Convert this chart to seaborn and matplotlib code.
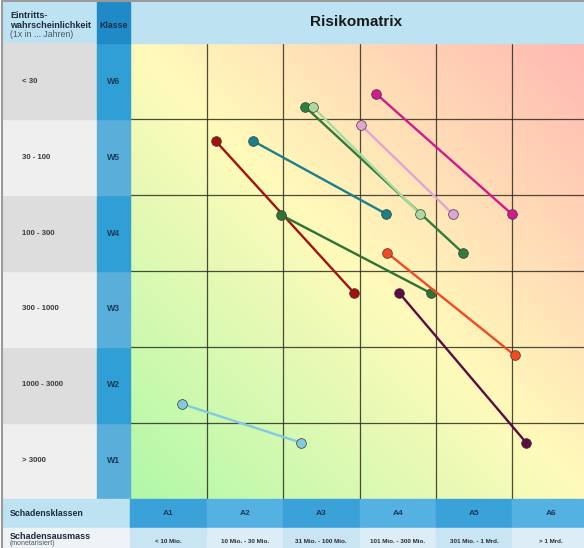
import numpy as np
import pandas as pd
import matplotlib
matplotlib.use("Agg")
import matplotlib.pyplot as plt
import seaborn as sns
from matplotlib.patches import Rectangle

sns.set_theme(style="white")
plt.rcParams['font.family'] = ['Liberation Sans', 'DejaVu Sans']

# ---------------- data ----------------
title = "Risikomatrix"
damage_classes = ["A1", "A2", "A3", "A4", "A5", "A6"]
damage_amounts = ["< 10 Mio.", "10 Mio. - 30 Mio.", "31 Mio. - 100 Mio.",
                  "101 Mio. - 300 Mio.", "301 Mio. - 1 Mrd.", "> 1 Mrd."]
prob_classes = ["W1", "W2", "W3", "W4", "W5", "W6"]
prob_ranges = ["> 3000", "1000 - 3000", "300 - 1000", "100 - 300", "30 - 100", "< 30"]

series_names = ["dunkelgruen_oben", "hellgruen", "magenta", "rosa", "dunkelrot",
                "petrol", "dunkelgruen_mitte", "orangerot", "aubergine", "hellblau"]
start_x = [2.29, 2.39, 3.22, 3.02, 1.12, 1.61, 1.97, 3.36, 3.52, 0.68]
start_y = [5.16, 5.16, 5.33, 4.92, 4.71, 4.71, 3.74, 3.24, 2.71, 1.25]
end_x = [4.35, 3.79, 4.99, 4.22, 2.93, 3.35, 3.93, 5.03, 5.18, 2.24]
end_y = [3.24, 3.75, 3.75, 3.75, 2.71, 3.75, 2.71, 1.89, 0.74, 0.74]
series_colors = ["#2f7d3a", "#a9dba0", "#d01a8e", "#e3a3d3", "#a3120f",
                 "#1b7f8c", "#2b7434", "#f24a22", "#5b0b45", "#84c9e0"]

df = pd.DataFrame({
    "serie": np.repeat(series_names, 2),
    "x": np.ravel(np.column_stack([start_x, end_x])),
    "y": np.ravel(np.column_stack([start_y, end_y])),
})

# ---------------- figure ----------------
fig = plt.figure(figsize=(5.84, 5.48), dpi=100)
ax = fig.add_axes([0, 0, 1, 1])
X0, X1 = -1.70, 5.935
Y0, Y1 = -0.645, 6.566
ax.set_xlim(X0, X1)
ax.set_ylim(Y0, Y1)
ax.axis("off")
fig.patch.set_facecolor("white")

LX0, KX0 = -1.66, -0.431
TOP = 6.535

# gradient background of matrix
n = 400
gx, gy = np.meshgrid(np.linspace(0, 6, n), np.linspace(0, 6, n))
t = (gx + gy) / 12.0
green = np.array([0.69, 0.975, 0.66])
yellow = np.array([1.0, 0.982, 0.73])
pink = np.array([1.0, 0.72, 0.70])
lo = t <= 0.5
a = (t / 0.5)[..., None]
b = ((t - 0.5) / 0.5)[..., None]
img = np.where(lo[..., None], green + (yellow - green) * a, yellow + (pink - yellow) * b)
ax.imshow(img, extent=(0, 6, 0, 6), origin="lower", aspect="auto", zorder=0)

# grid lines
for i in range(1, 6):
    ax.plot([i, i], [0, 6], color="#2e2e22", lw=0.9, alpha=0.85, zorder=1)
    ax.plot([0, 6], [i, i], color="#2e2e22", lw=0.9, alpha=0.85, zorder=1)

# header band
ax.add_patch(Rectangle((LX0, 6.0), X1 - LX0, TOP - 6.0, color="#bde3f3", zorder=1))
ax.add_patch(Rectangle((KX0, 6.0), -KX0, TOP - 6.0, color="#1f8ac6", zorder=2))
ax.text(2.95, 6.27, title, ha="center", va="center", fontsize=11,
        fontweight="bold", color="#1a1a1a", zorder=5)
ax.text(-1.57, 6.36, "Eintritts-", ha="left", va="center", fontsize=6.5,
        fontweight="bold", color="#1e2a3a", zorder=5)
ax.text(-1.57, 6.235, "wahrscheinlichkeit", ha="left", va="center", fontsize=6.5,
        fontweight="bold", color="#1e2a3a", zorder=5)
ax.text(-1.57, 6.11, "(1x in ... Jahren)", ha="left", va="center", fontsize=6.3,
        color="#4a5866", zorder=5)
ax.text(KX0 / 2, 6.235, "Klasse", ha="center", va="center", fontsize=6.3,
        fontweight="bold", color="#13304d", zorder=5)

# left label columns
for r in range(6):
    gray = "#efefef" if r % 2 == 0 else "#dddddd"
    blue = "#5aafda" if r % 2 == 0 else "#2f9fd5"
    ax.add_patch(Rectangle((LX0, r), KX0 - LX0, 1, color=gray, zorder=1))
    ax.add_patch(Rectangle((KX0, r), -KX0, 1, color=blue, zorder=1))
    ax.text(-1.41, r + 0.5, prob_ranges[r], ha="left", va="center", fontsize=5.6,
            fontweight="bold", color="#3a3a3a", zorder=5)
    ax.text(KX0 / 2, r + 0.5, prob_classes[r], ha="center", va="center", fontsize=6.3,
            fontweight="bold", color="#1b3a5a", zorder=5)

# bottom bands
ax.add_patch(Rectangle((LX0, -0.38), -LX0, 0.38, color="#bde3f3", zorder=1))
ax.add_patch(Rectangle((LX0, Y0), -LX0, -0.38 - Y0, color="#eef3f6", zorder=1))
ax.text(-1.57, -0.19, "Schadensklassen", ha="left", va="center", fontsize=6.3,
        fontweight="bold", color="#1e2a3a", zorder=5)
ax.text(-1.57, -0.49, "Schadensausmass", ha="left", va="center", fontsize=6.5,
        fontweight="bold", color="#1e2a3a", zorder=5)
ax.text(-1.57, Y0 + 0.012, "(monetarisiert)", ha="left", va="bottom", fontsize=5.0,
        color="#4a5866", zorder=5)
for c in range(6):
    top_col = "#3aa1d9" if c % 2 == 0 else "#55b1e1"
    bot_col = "#c9e4f3" if c % 2 == 0 else "#dcedf7"
    ax.add_patch(Rectangle((c, -0.38), 1, 0.38, color=top_col, zorder=1))
    ax.add_patch(Rectangle((c, Y0), 1, -0.38 - Y0, color=bot_col, zorder=1))
    ax.text(c + 0.5, -0.19, damage_classes[c], ha="center", va="center", fontsize=6.0,
            fontweight="bold", color="#1b3a5a", zorder=5)
    ax.text(c + 0.5, -0.553, damage_amounts[c], ha="center", va="center", fontsize=4.5,
            fontweight="bold", color="#2a2a2a", zorder=5)

# outer gray border (left and top)
ax.plot([LX0 - 0.02, LX0 - 0.02], [Y0, TOP + 0.02], color="#9a9a9a", lw=1.5, zorder=6)
ax.plot([LX0 - 0.02, X1], [TOP + 0.02, TOP + 0.02], color="#9a9a9a", lw=1.5, zorder=6)

# risk shift lines
palette = dict(zip(series_names, series_colors))
sns.lineplot(data=df, x="x", y="y", hue="serie", hue_order=series_names,
             palette=palette, sort=False, estimator=None, marker="o",
             markersize=7, markeredgecolor="#3a3a3a", markeredgewidth=0.5,
             linewidth=1.7, legend=False, ax=ax, zorder=4)
ax.set_xlim(X0, X1)
ax.set_ylim(Y0, Y1)
ax.axis("off")

fig.savefig("out.png", dpi=100)
